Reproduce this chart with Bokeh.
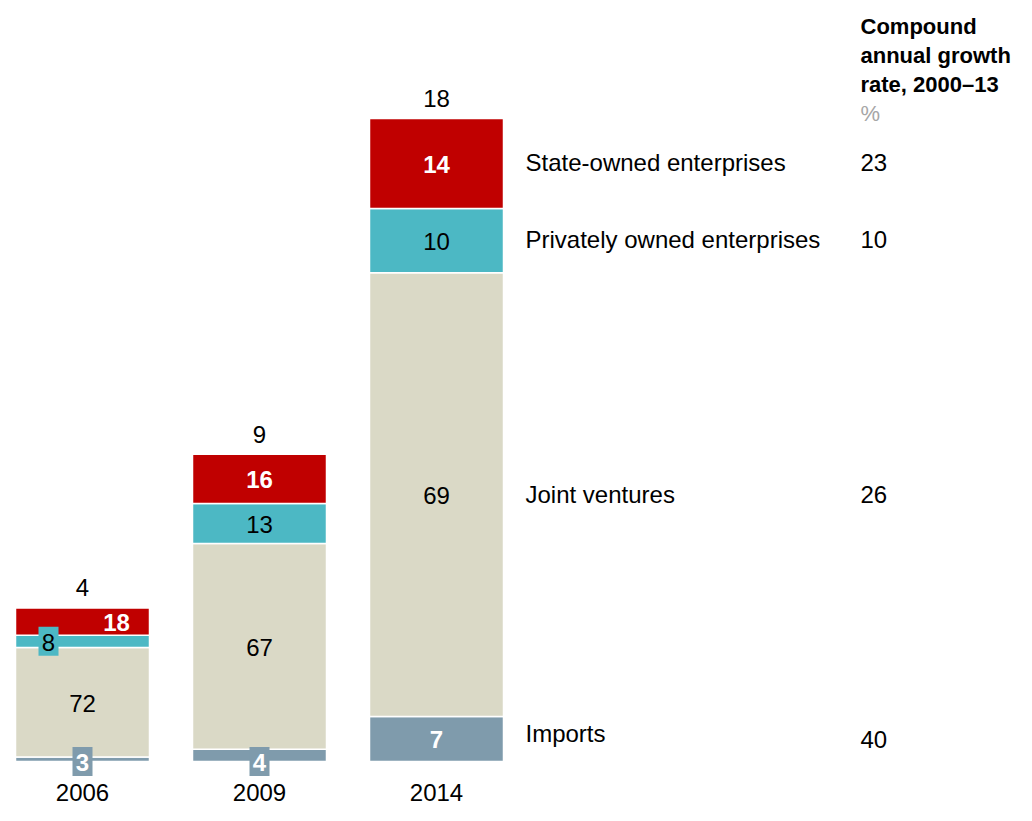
from bokeh.plotting import figure
from bokeh.models import Range1d
from bokeh.core.properties import value
from bokeh.embed import file_html
from bokeh.resources import INLINE

# ---- data ----
years = ["2006", "2009", "2014"]
totals = [4.3, 8.6, 18.0]
total_labels = ["4", "9", "18"]
categories = ["Imports", "Joint ventures", "Privately owned enterprises", "State-owned enterprises"]
imports_share = [3, 4, 7]
jv_share = [72, 67, 69]
private_share = [8, 13, 10]
state_share = [18, 16, 14]
cagr = ["40", "26", "10", "23"]
header_lines = ["Compound", "annual growth", "rate, 2000\u201313"]
unit_label = "%"

# ---- style ----
colors = ["#7F9BAC", "#DAD9C6", "#4CB8C4", "#C00000"]
text_colors = ["white", "black", "black", "white"]
text_styles = ["bold", "normal", "normal", "bold"]
FONT = value("Liberation Sans")
FS = "24px"
PX_X = 177.0   # px per x unit
PX_Y = 35.72   # px per y unit
W, H = 1016, 805

x0 = -82 / PX_X
y0 = -(H - 761) / PX_Y
p = figure(width=W, height=H, output_backend="svg", toolbar_location=None,
           x_range=Range1d(x0, x0 + W / PX_X), y_range=Range1d(y0, y0 + H / PX_Y),
           x_axis_type=None, y_axis_type=None, min_border=0,
           outline_line_color=None)
p.grid.visible = False
p.background_fill_color = "white"
p.border_fill_color = "white"

xs = [0, 1, 2]
bar_w = 134 / PX_X
series = [imports_share, jv_share, private_share, state_share]

seg_info = []  # (cat_idx, year_idx, bottom, top)
for i in range(3):
    s = sum(ser[i] for ser in series)
    cum = 0.0
    for c, ser in enumerate(series):
        b = cum
        cum += ser[i] / s * totals[i]
        seg_info.append((c, i, b, cum))

for c in range(4):
    segs = [sg for sg in seg_info if sg[0] == c]
    p.vbar(x=[xs[sg[1]] for sg in segs], width=bar_w,
           bottom=[sg[2] for sg in segs], top=[sg[3] for sg in segs],
           fill_color=colors[c], line_color="white", line_width=1.5)

# labels inside segments
for (c, i, b, t) in seg_info:
    lab = str(series[c][i])
    hpx = (t - b) * PX_Y
    xc = xs[i]
    yc = (b + t) / 2
    if hpx < 25 and not (c == 3):
        dx = -34 / PX_X if c == 2 else 0
        if c == 0:
            yc = b
        p.rect(x=[xc + dx], y=[yc], width=20, height=29,
               width_units="screen", height_units="screen",
               fill_color=colors[c], line_color=None)
        p.text(x=[xc + dx], y=[yc], text=[lab], text_align="center",
               text_baseline="middle", text_font=FONT, text_font_size=FS,
               text_color=text_colors[c], text_font_style=text_styles[c], y_offset=1)
    else:
        dx = 34 / PX_X if (c == 3 and hpx < 35) else 0
        p.text(x=[xc + dx], y=[yc], text=[lab], text_align="center",
               text_baseline="middle", text_font=FONT, text_font_size=FS,
               text_color=text_colors[c], text_font_style=text_styles[c], y_offset=1)

# totals above bars
p.text(x=xs, y=totals, text=total_labels, text_align="center", text_baseline="middle",
       text_font=FONT, text_font_size=FS, text_color="black", y_offset=-20)

# year labels
p.text(x=xs, y=[0] * 3, text=years, text_align="center", text_baseline="middle",
       text_font=FONT, text_font_size=FS, text_color="black", y_offset=31)

# category labels to the right of last bar
last = [sg for sg in seg_info if sg[1] == 2]
lab_x = 2 + (525 - 436) / PX_X
cagr_x = (860 - 82) / PX_X
mids = [(sg[2] + sg[3]) / 2 for sg in last]
lab_offs = [-5, 0, -1, -1]
val_offs = [1, 0, -1, -1]
for c in range(4):
    p.text(x=[lab_x], y=[mids[c]], text=[categories[c]], text_align="left",
           text_baseline="middle", text_font=FONT, text_font_size=FS,
           text_color="black", y_offset=lab_offs[c])
    p.text(x=[cagr_x], y=[mids[c]], text=[cagr[c]], text_align="left",
           text_baseline="middle", text_font=FONT, text_font_size=FS,
           text_color="black", y_offset=val_offs[c])

# header
ytop = y0 + H / PX_Y
for k, line in enumerate(header_lines):
    p.text(x=[cagr_x], y=[ytop], text=[line], text_align="left", text_baseline="middle",
           text_font=FONT, text_font_size="22px", text_font_style="bold",
           text_color="black", y_offset=26 + 29 * k)
p.text(x=[cagr_x], y=[ytop], text=[unit_label], text_align="left", text_baseline="middle",
       text_font=FONT, text_font_size="22px", text_color="#A6A6A6", y_offset=26 + 29 * 3)

open("out.html", "w").write(file_html(p, INLINE))
